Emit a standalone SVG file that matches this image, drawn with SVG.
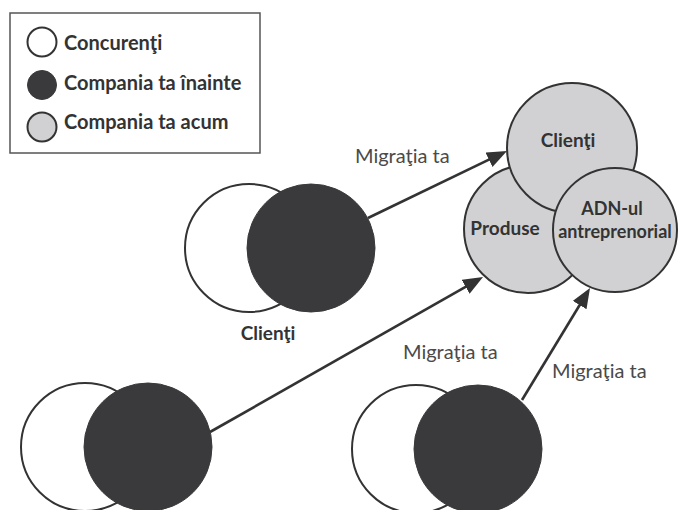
<svg xmlns="http://www.w3.org/2000/svg" width="678" height="510" viewBox="0 0 678 510">
<style>
.bg{fill:#fff}
.w{fill:#fff;stroke:#333;stroke-width:2}
.d{fill:#3a3a3c;stroke:#3a3a3c;stroke-width:1}
.g{fill:#d1d1d3;stroke:#333;stroke-width:2}
.lb{font-family:Lato,"Open Sans",sans-serif;font-weight:bold;fill:#333}
.mg{font-family:Lato,"Open Sans",sans-serif;font-size:20px;fill:#4a4a4a}
.ar{stroke:#333;stroke-width:2.6;fill:none;marker-end:url(#ah)}
</style>
<defs>
<marker id="ah" markerUnits="userSpaceOnUse" markerWidth="22" markerHeight="18" refX="8" refY="8" orient="auto">
<path d="M0,0 L20,8 L0,16 Z" fill="#333"/>
</marker>
</defs>
<rect class="bg" x="0" y="0" width="678" height="510"/>
<g id="legend">
<rect x="10" y="13" width="250" height="140" fill="#fff" stroke="#555" stroke-width="1.5"/>
<circle class="w" cx="42" cy="42" r="14.5"/>
<circle class="d" cx="42" cy="85" r="14.5"/>
<circle class="g" cx="42" cy="127" r="14.5"/>
<text class="lb" x="64" y="50" font-size="20">Concurenţi</text>
<text class="lb" x="64" y="90" font-size="20">Compania ta înainte</text>
<text class="lb" x="64" y="129" font-size="20">Compania ta acum</text>
</g>
<g id="pair-top">
<circle class="w" cx="249" cy="248" r="64"/>
<circle class="d" cx="311" cy="248" r="64"/>
<text class="lb" x="268" y="340" font-size="19" text-anchor="middle">Clienţi</text>
</g>
<g id="pair-bottom-left">
<circle class="w" cx="85" cy="447" r="64"/>
<circle class="d" cx="148" cy="447" r="64"/>
</g>
<g id="pair-bottom-right">
<circle class="w" cx="416" cy="449" r="64"/>
<circle class="d" cx="478" cy="449" r="64"/>
</g>
<g id="now">
<circle class="g" cx="528" cy="229" r="64"/>
<circle class="g" cx="572" cy="148" r="65"/>
<circle class="g" cx="615" cy="230" r="62"/>
<text class="lb" x="568" y="147" font-size="19" text-anchor="middle">Clienţi</text>
<text class="lb" x="505" y="235" font-size="19" text-anchor="middle">Produse</text>
<text class="lb" x="612" y="215" font-size="18" text-anchor="middle">ADN-ul</text>
<text class="lb" x="615" y="238" font-size="18" text-anchor="middle">antreprenorial</text>
</g>
<g id="connectors">
<line class="ar" x1="368" y1="218" x2="496.2" y2="156.2"/>
<line class="ar" x1="210" y1="432" x2="472.6" y2="282.9"/>
<line class="ar" x1="522" y1="400" x2="583.8" y2="298.3"/>
<text class="mg" x="355" y="163">Migraţia ta</text>
<text class="mg" x="403" y="359">Migraţia ta</text>
<text class="mg" x="552" y="378">Migraţia ta</text>
</g>
</svg>
